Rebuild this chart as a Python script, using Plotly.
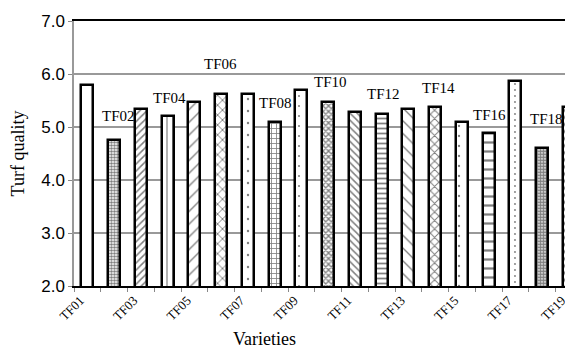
import plotly.graph_objects as go

# ---- data ----
varieties = ["TF01", "TF02", "TF03", "TF04", "TF05", "TF06", "TF07", "TF08", "TF09", "TF10",
             "TF11", "TF12", "TF13", "TF14", "TF15", "TF16", "TF17", "TF18", "TF19"]
turf_quality = [5.80, 4.75, 5.34, 5.20, 5.48, 5.62, 5.62, 5.10, 5.69, 5.48,
                5.28, 5.25, 5.34, 5.38, 5.10, 4.89, 5.87, 4.60, 5.38]
tick_labels = varieties[0::2]           # odd-numbered varieties on the axis
label_names = varieties[1::2]           # even-numbered varieties labelled above bars
y_ticks = [2.0, 3.0, 4.0, 5.0, 6.0, 7.0]

# ---- styles ----
pattern_shapes = [".", ".", "/", "|", "/", "x", ".", "+", ".", "x",
                  "\\", "-", "\\", "x", ".", "-", ".", ".", "/"]
pattern_sizes = [13, 3, 5, 6, 9, 7, 12, 5, 10, 4,
                 5, 5, 9, 6, 10, 9, 6, 3, 5]
pattern_solid = [0.02, 0.55, 0.3, 0.2, 0.15, 0.25, 0.03, 0.3, 0.03, 0.55,
                 0.3, 0.35, 0.15, 0.3, 0.04, 0.25, 0.08, 0.75, 0.45]
label_yshift = [24, 18, 30, 19, 20, 20, 19, 18, 29]   # pixels above bar top
label_xshift = [4, 2, -1, 1, 2, 2, 3, 1, 4]

serif = "Liberation Serif"
sans = "Liberation Sans"
idx = list(range(len(varieties)))

fig = go.Figure()
fig.add_trace(go.Bar(
    x=idx, y=turf_quality, base=0, width=0.44,
    marker=dict(
        color="white",
        line=dict(color="black", width=2.5),
        pattern=dict(shape=pattern_shapes, size=pattern_sizes, solidity=pattern_solid,
                     fgcolor="black", bgcolor="white", fillmode="overlay"),
    ),
    hovertext=varieties,
))

for k, name in enumerate(label_names):
    i = varieties.index(name)
    fig.add_annotation(x=i, y=turf_quality[i], text=name, showarrow=False,
                       yanchor="middle", xanchor="center",
                       yshift=label_yshift[k], xshift=label_xshift[k],
                       font=dict(family=serif, size=15, color="black"))

fig.add_annotation(x=0.381, y=-0.2, xref="paper", yref="paper", text="Varieties",
                   showarrow=False, xanchor="center", yanchor="middle",
                   font=dict(family=serif, size=18, color="black"))

# the page body adds an 8px offset, so the figure is 8px smaller on each side
fig.update_layout(
    width=565, height=340,
    margin=dict(l=66, r=0, t=13, b=62),
    plot_bgcolor="white", paper_bgcolor="white",
    showlegend=False, bargap=0,
)
fig.update_xaxes(
    automargin=False,
    range=[-0.5, 18.154],
    tickmode="array", tickvals=idx[0::2], ticktext=tick_labels,
    tickangle=-45, ticks="", showgrid=False, ticklabeloverflow="allow",
    ticklabelshift=-7,
    tickfont=dict(family=serif, size=13, color="black"),
    showline=True, linecolor="black", linewidth=1.5, mirror=True,
    minor=dict(tickmode="array", tickvals=[i - 0.5 for i in range(len(varieties) + 1)],
               ticks="outside", ticklen=4, tickcolor="#888888", tickwidth=1, showgrid=False),
    zeroline=False,
)
fig.update_yaxes(
    automargin=False,
    range=[2.0, 7.0], tickmode="array", tickvals=y_ticks,
    ticktext=[f"{v:.1f}" for v in y_ticks],
    tickfont=dict(family=sans, size=17, color="black"),
    ticks="outside", ticklen=4, tickcolor="#888888",
    showgrid=True, gridcolor="#999999", gridwidth=1.5,
    showline=True, linecolor="#999999", linewidth=1.5,
    zeroline=False,
    title=dict(text="Turf quality", font=dict(family=serif, size=18, color="black"), standoff=12),
)

fig.write_html("out.html")
